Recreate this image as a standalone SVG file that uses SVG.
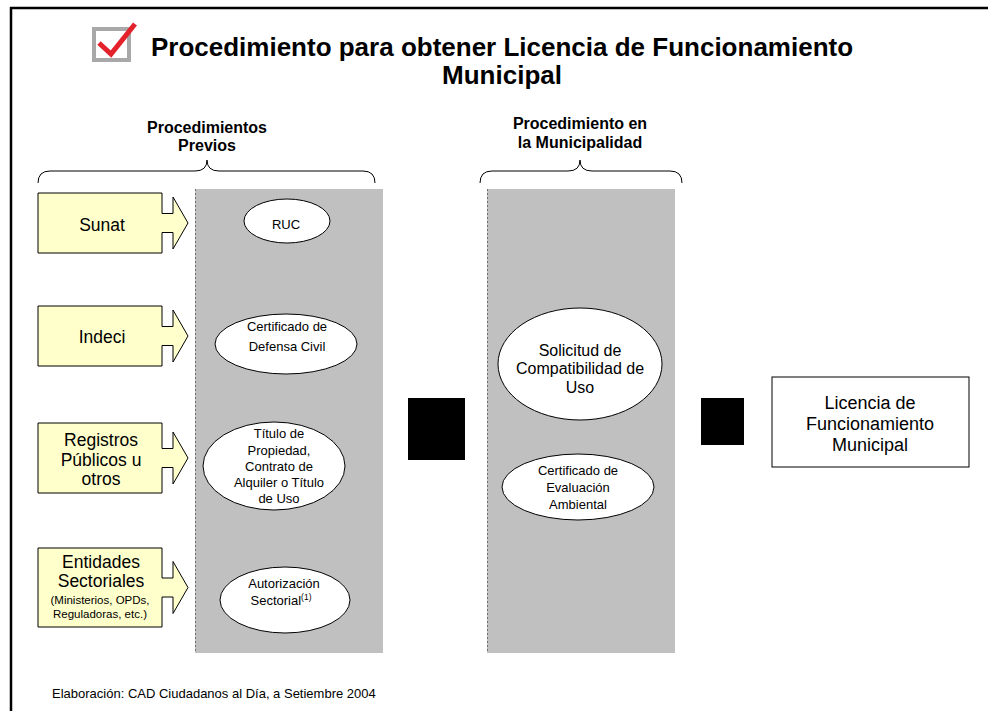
<svg xmlns="http://www.w3.org/2000/svg" width="988" height="711" viewBox="0 0 988 711">
<style>
text{font-family:"Liberation Sans",Arial,sans-serif;fill:#000;text-anchor:middle}
.title{font-size:26px;font-weight:bold}
.hdr{font-size:16px;font-weight:bold}
.box{fill:#ffffcc;stroke:#000;stroke-width:1}
.big{font-size:17.5px}
.sol{font-size:16px}
.lic{font-size:18px}
.sm{font-size:11.5px}
.ell{fill:#fff;stroke:#000;stroke-width:1}
.et{font-size:13px}
.panel{fill:#c0c0c0}
.dash{stroke:#707070;stroke-width:1;stroke-dasharray:2,2;fill:none}
.brace{fill:none;stroke:#000;stroke-width:1}
</style>
<rect width="988" height="711" fill="#fff"/>
<path d="M11,711 V8 H988" fill="none" stroke="#000" stroke-width="2.5"/>
<g id="icon">
<rect x="94" y="29" width="35" height="31" fill="#fff" stroke="#a8a8a8" stroke-width="4"/>
<path d="M99,43 L111,54 L135,24" fill="none" stroke="#e3222c" stroke-width="5" stroke-linejoin="miter"/>
</g>
<g id="title">
<text class="title" x="502" y="56">Procedimiento para obtener Licencia de Funcionamiento</text>
<text class="title" x="502" y="84">Municipal</text>
</g>
<g id="hdr-previos">
<text class="hdr" x="207" y="133">Procedimientos</text>
<text class="hdr" x="207" y="151">Previos</text>
<path class="brace" d="M38,183 Q38,171 50,171 H195 Q207,171 207,160 Q207,171 219,171 H363 Q375,171 375,183"/>
</g>
<g id="hdr-muni">
<text class="hdr" x="580" y="129">Procedimiento en</text>
<text class="hdr" x="580" y="148">la Municipalidad</text>
<path class="brace" d="M480,183 Q480,171 492,171 H568 Q580,171 580,160 Q580,171 592,171 H670 Q682,171 682,183"/>
</g>
<g id="panel1">
<rect class="panel" x="195" y="189" width="188" height="464"/>
<line class="dash" x1="195.5" y1="189" x2="195.5" y2="653"/>
</g>
<g id="panel2">
<rect class="panel" x="487" y="189" width="188" height="464"/>
<line class="dash" x1="487.5" y1="189" x2="487.5" y2="653"/>
</g>
<g id="sunat">
<path class="box" d="M38,193 H162 V213.5 H173 V197 L188,223 L173,249 V232.5 H162 V253 H38 Z"/>
<text class="big" x="102" y="231">Sunat</text>
</g>
<g id="indeci">
<path class="box" d="M38,306 H162 V326.5 H173 V310 L188,336 L173,362 V345.5 H162 V366 H38 Z"/>
<text class="big" x="102" y="343">Indeci</text>
</g>
<g id="registros">
<path class="box" d="M38,423 H162 V448.5 H173 V432 L188,458 L173,484 V467.5 H162 V493 H38 Z"/>
<text class="big" x="101" y="446">Registros</text>
<text class="big" x="101" y="466">Públicos u</text>
<text class="big" x="101" y="485">otros</text>
</g>
<g id="entidades">
<path class="box" d="M38,548 H162 V578 H173 V561.5 L188,587.5 L173,613.5 V597 H162 V627 H38 Z"/>
<text class="big" x="101" y="568">Entidades</text>
<text class="big" x="101" y="587">Sectoriales</text>
<text class="sm" x="100" y="604">(Ministerios, OPDs,</text>
<text class="sm" x="100" y="618">Reguladoras, etc.)</text>
</g>
<g id="ruc">
<ellipse class="ell" cx="287" cy="221" rx="43" ry="22"/>
<text class="et" x="286" y="229">RUC</text>
</g>
<g id="defensa">
<ellipse class="ell" cx="286" cy="344" rx="71" ry="30"/>
<text class="et" x="287" y="331">Certificado de</text>
<text class="et" x="287" y="351">Defensa Civil</text>
</g>
<g id="titulo">
<ellipse class="ell" cx="274" cy="466" rx="71" ry="44"/>
<text class="et" x="279" y="438">Título de</text>
<text class="et" x="279" y="455">Propiedad,</text>
<text class="et" x="279" y="471">Contrato de</text>
<text class="et" x="279" y="487">Alquiler o Título</text>
<text class="et" x="279" y="503">de Uso</text>
</g>
<g id="autorizacion">
<ellipse class="ell" cx="285" cy="600" rx="65" ry="33"/>
<text class="et" x="284" y="588">Autorización</text>
<text class="et" x="281" y="605">Sectorial<tspan font-size="8.5" dy="-5">(1)</tspan></text>
</g>
<g id="solicitud">
<ellipse class="ell" cx="580" cy="364" rx="82" ry="56"/>
<text class="sol" x="580" y="356">Solicitud de</text>
<text class="sol" x="580" y="374">Compatibilidad de</text>
<text class="sol" x="580" y="393">Uso</text>
</g>
<g id="ambiental">
<ellipse class="ell" cx="578" cy="487" rx="76" ry="33"/>
<text class="et" x="578" y="475">Certificado de</text>
<text class="et" x="578" y="492">Evaluación</text>
<text class="et" x="578" y="509">Ambiental</text>
</g>
<g id="connectors">
<rect x="408" y="398" width="57" height="62" fill="#000"/>
<rect x="701" y="398" width="43" height="47" fill="#000"/>
</g>
<g id="licencia">
<rect x="772" y="377" width="197" height="90" fill="#fff" stroke="#000" stroke-width="1"/>
<text class="lic" x="870" y="409">Licencia de</text>
<text class="lic" x="870" y="430">Funcionamiento</text>
<text class="lic" x="870" y="451">Municipal</text>
</g>
<text x="52" y="698" style="font-size:13px;text-anchor:start">Elaboración: CAD Ciudadanos al Día, a Setiembre 2004</text>
</svg>
